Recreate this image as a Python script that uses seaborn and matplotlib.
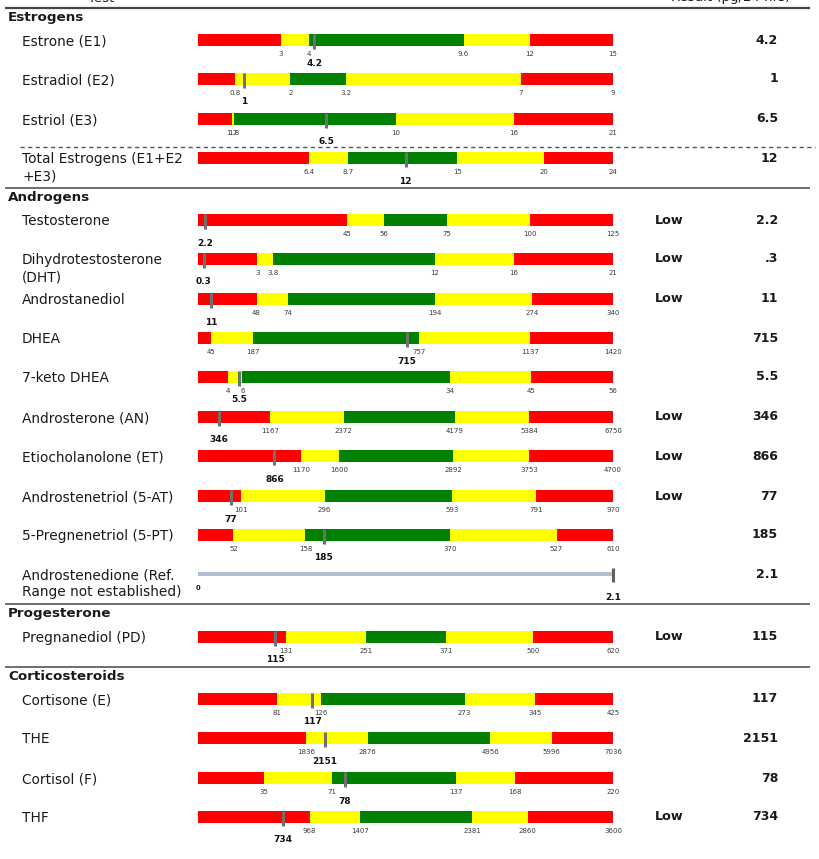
import pandas as pd
import seaborn as sns
import matplotlib.pyplot as plt

sns.set_theme(style="white")
plt.rcParams['font.family'] = ['DejaVu Sans']

# Datos del informe
sections = ["Estrogens", "Androgens", "Progesterone", "Corticosteroids"]
tests = ["Estrone (E1)", "Estradiol (E2)", "Estriol (E3)", "Total Estrogens (E1+E2\n+E3)",
         "Testosterone", "Dihydrotestosterone\n(DHT)", "Androstanediol", "DHEA", "7-keto DHEA",
         "Androsterone (AN)", "Etiocholanolone (ET)", "Androstenetriol (5-AT)",
         "5-Pregnenetriol (5-PT)", "Androstenedione (Ref.\nRange not established)",
         "Pregnanediol (PD)", "Cortisone (E)", "THE", "Cortisol (F)", "THF"]
# limites: fin rojo bajo, fin amarillo bajo, fin verde, fin amarillo alto, maximo
limits = [
    [3, 4, 9.6, 12, 15],
    [0.8, 2, 3.2, 7, 9],
    [1.7, 1.8, 10, 16, 21],
    [6.4, 8.7, 15, 20, 24],
    [45, 56, 75, 100, 125],
    [3, 3.8, 12, 16, 21],
    [48, 74, 194, 274, 340],
    [45, 187, 757, 1137, 1420],
    [4, 6, 34, 45, 56],
    [1167, 2372, 4179, 5384, 6750],
    [1170, 1600, 2892, 3753, 4700],
    [101, 296, 593, 791, 970],
    [52, 158, 370, 527, 610],
    None,
    [131, 251, 371, 500, 620],
    [81, 126, 273, 345, 425],
    [1836, 2876, 4956, 5996, 7036],
    [35, 71, 137, 168, 220],
    [968, 1407, 2381, 2860, 3600],
]
results = [4.2, 1, 6.5, 12, 2.2, 0.3, 11, 715, 5.5, 346, 866, 77, 185, 2.1,
           115, 117, 2151, 78, 734]
result_text = ["4.2", "1", "6.5", "12", "2.2", ".3", "11", "715", "5.5", "346", "866",
               "77", "185", "2.1", "115", "117", "2151", "78", "734"]
flags = ["", "", "", "", "Low", "Low", "Low", "", "", "Low", "Low", "Low", "", "",
         "Low", "", "", "", "Low"]

# Posiciones (pixeles)
row_y = [40, 79, 119, 158, 220, 259, 299, 338, 377, 417, 456, 496, 535, 574,
         637, 699, 738, 778, 817]
section_y = [18, 198, 614, 676]
rule_y = [188, 604, 667]

seg_names = ["s5", "s4", "s3", "s2", "s1"]
seg_palette = {"s5": "#ff0000", "s4": "#ffff00", "s3": "#008000",
               "s2": "#ffff00", "s1": "#ff0000"}
txt = "#1a1a1a"

W, H = 819, 859
fig = plt.figure(figsize=(W / 100, H / 100), dpi=100)
bg = fig.add_axes([0, 0, 1, 1])
bg.set_xlim(0, W)
bg.set_ylim(H, 0)
bg.axis("off")

# encabezado cortado y lineas
bg.text(88, 1.5, "Test", fontsize=9.5, color=txt, va="baseline")
bg.text(790, 1.5, "Result (pg/24 hrs)", fontsize=9.5, color=txt, va="baseline", ha="right")
bg.hlines(8, 5, 810, color="#444444", lw=1.6)
bg.hlines(rule_y, 5, 810, color="#555555", lw=1.2)
bg.hlines(147, 20, 815, color="#555555", lw=1, linestyles=(0, (3, 2.5)))

for name, y in zip(sections, section_y):
    bg.text(8, y, name, fontsize=9.7, fontweight="bold", color=txt, va="center")

for i, name in enumerate(tests):
    yc = row_y[i]
    bg.text(22, yc - 5.7, name, fontsize=9.9, color=txt, va="top", linespacing=1.25)
    bg.text(655, yc, flags[i], fontsize=9.2, fontweight="bold", color=txt, va="center")
    bg.text(778, yc, result_text[i], fontsize=9, fontweight="bold", color=txt,
            va="center", ha="right")

    ax = fig.add_axes([198 / W, 1 - (yc + 6) / H, 415 / W, 12 / H])
    ax.patch.set_visible(False)
    lim = limits[i]
    v = results[i]
    if lim is not None:
        seg = pd.DataFrame({"tramo": seg_names, "valor": lim[::-1], "fila": "a"})
        sns.barplot(data=seg, x="valor", y="fila", hue="tramo", palette=seg_palette,
                    dodge=False, width=1, saturation=1, legend=False, errorbar=None,
                    linewidth=0, ax=ax)
        ax.set_xlim(0, lim[-1])
        ax.set_xticks(lim)
        ax.set_xticklabels([f"{b:g}" for b in lim], fontsize=5, color="#3a3a3a")
        ax.plot([v, v], [-0.5, 0.75], color="#707070", lw=2.2,
                solid_capstyle="butt", clip_on=False)
        off = -17
    else:
        seg = pd.DataFrame({"valor": [v], "fila": "a"})
        sns.barplot(data=seg, x="valor", y="fila", color="#b3bed0", width=0.33,
                    saturation=1, errorbar=None, linewidth=0, ax=ax)
        ax.set_xlim(0, v)
        ax.set_xticks([0])
        ax.set_xticklabels(["0"], fontsize=4.8, fontweight="bold", color="#111111")
        ax.plot([v, v], [-0.5, 0.66], color="#606060", lw=2.2,
                solid_capstyle="butt", clip_on=False)
        off = -18
    ax.set_ylim(0.5, -0.5)
    ax.set_yticks([])
    ax.set_xlabel("")
    ax.set_ylabel("")
    ax.tick_params(axis="x", length=0, pad=3.3)
    sns.despine(ax=ax, left=True, bottom=True)
    ax.annotate(f"{v:g}", xy=(v, 0), xycoords=("data", "axes fraction"),
                xytext=(0, off), textcoords="offset pixels", ha="center", va="center",
                fontsize=6.5, fontweight="bold", color="#111111", annotation_clip=False)

plt.savefig("out.png", dpi=100)
plt.close()
